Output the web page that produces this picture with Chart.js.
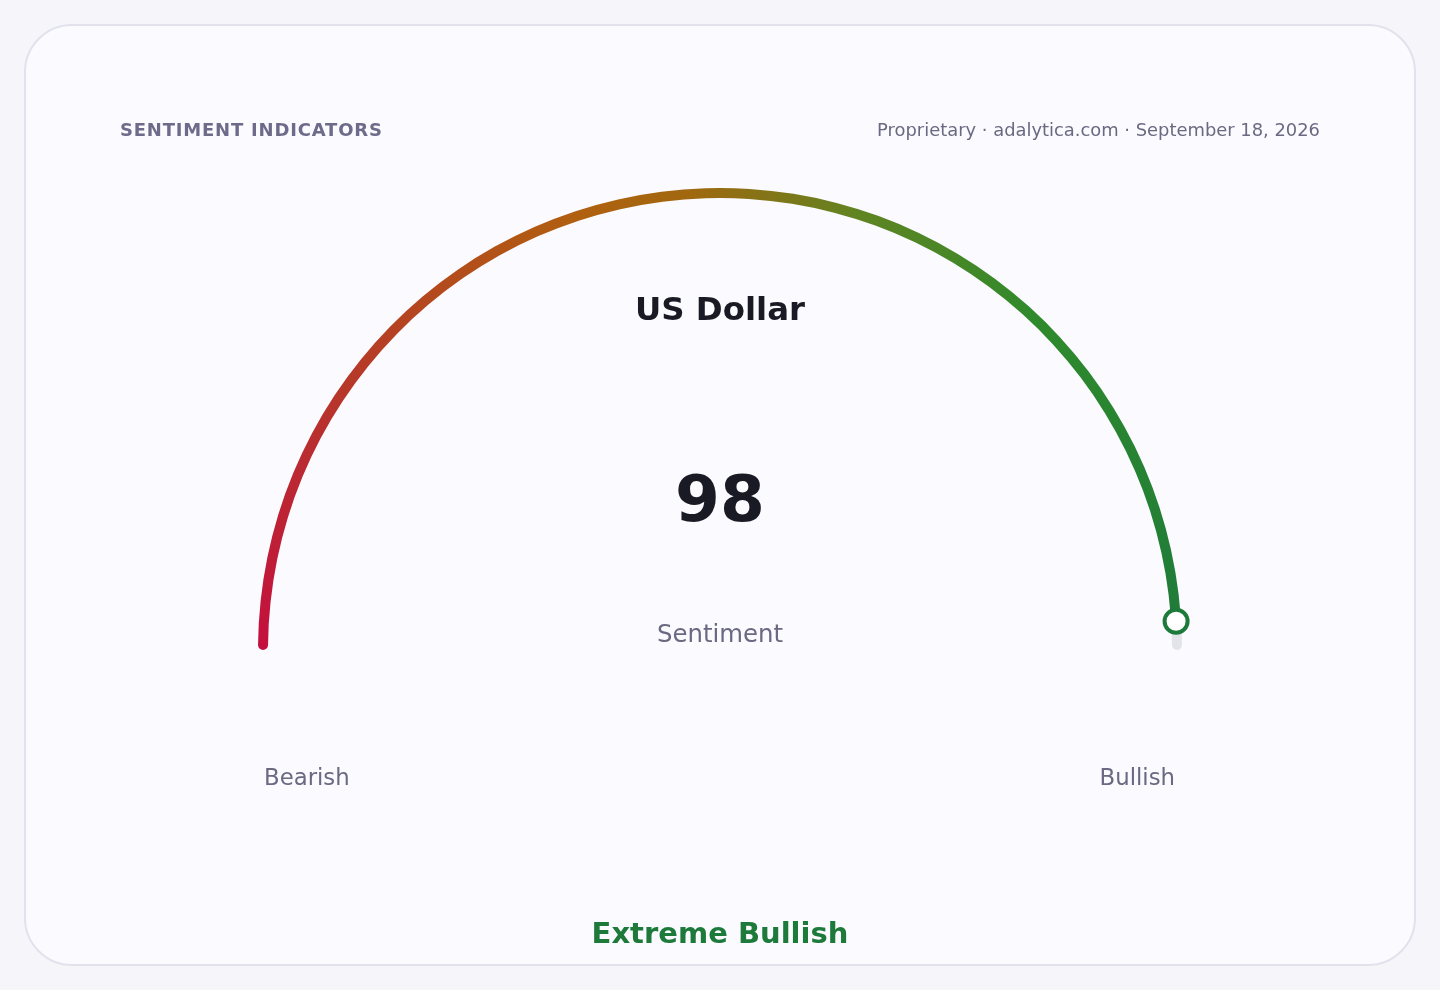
<!DOCTYPE html>
<html>
<head>
<meta charset="utf-8">
<script src="https://cdn.jsdelivr.net/npm/chart.js@4.4.1/dist/chart.umd.min.js"></script>
<style>
  html, body { margin: 0; padding: 0; width: 1440px; height: 990px; background: #f6f6fa; overflow: hidden; font-family: "DejaVu Sans", sans-serif; }
  .card { position: absolute; left: 24px; top: 24px; width: 1388px; height: 938px; border: 2px solid #e2e2ed; border-radius: 48px; background: #fafaff; }
  #gauge { position: absolute; left: 0; top: 0; }
  .t { position: absolute; white-space: nowrap; }
  .c { transform: translate(-50%, -50%); }
</style>
</head>
<body>
<div class="card"></div>
<canvas id="gauge" width="1440" height="990"></canvas>
<div class="t" style="left:120px;top:119px;font-size:18px;font-weight:bold;color:#6e6a8a;letter-spacing:0.8px;">SENTIMENT INDICATORS</div>
<div class="t" style="right:120px;top:119px;font-size:17.9px;color:#6b6982;">Proprietary · adalytica.com · September 18, 2026</div>
<div class="t c" style="left:720px;top:309px;font-size:32.4px;font-weight:bold;color:#1a1a24;" id="name"></div>
<div class="t c" style="left:720px;top:498px;font-size:64.5px;font-weight:bold;color:#1a1a24;" id="val"></div>
<div class="t c" style="left:720px;top:633px;font-size:24.4px;color:#6b6982;">Sentiment</div>
<div class="t" style="left:264px;top:764px;font-size:22.8px;color:#6b6982;" id="lo"></div>
<div class="t" style="right:265px;top:764px;font-size:22.8px;color:#6b6982;" id="hi"></div>
<div class="t c" style="left:720px;top:933px;font-size:29px;font-weight:bold;color:#1e7a3a;" id="zone"></div>
<script>
// gauge data
var asset = 'US Dollar';
var value = 98;
var maxValue = 100;
var endLabels = ['Bearish', 'Bullish'];
var zoneLabel = 'Extreme Bullish';

document.getElementById('name').textContent = asset;
document.getElementById('val').textContent = value;
document.getElementById('lo').textContent = endLabels[0];
document.getElementById('hi').textContent = endLabels[1];
document.getElementById('zone').textContent = zoneLabel;

// value slice: red -> orange -> green along the arc, rest slice: grey track
function sliceColor(context){
    if (context.dataIndex === 1) return '#e3e3ea';
    var chart = context.chart;
    var ca = chart.chartArea;
    var ctrl = chart.getDatasetMeta(0).controller;
    if (!ca || !chart.ctx.createConicGradient) return '#1e7a3a';
    var cx = (ca.left + ca.right) / 2 + (ctrl.offsetX || 0);
    var cy = (ca.top + ca.bottom) / 2 + (ctrl.offsetY || 0);
    var g = chart.ctx.createConicGradient(Math.PI, cx, cy);
    g.addColorStop(0, '#c40f3e');
    g.addColorStop(0.08, '#b8302e');
    g.addColorStop(0.2, '#b0600f');
    g.addColorStop(0.24, '#a0680f');
    g.addColorStop(0.3, '#5f8422');
    g.addColorStop(0.37, '#2f8a2c');
    g.addColorStop(0.5, '#1e7a3a');
    g.addColorStop(1, '#1e7a3a');
    return g;
}

// ring marker at the end of the value arc
const marker = {
    id: 'marker',
    afterDatasetsDraw(chart){
        var arc = chart.getDatasetMeta(0).data[0];
        var r = (arc.innerRadius + arc.outerRadius) / 2;
        var x = arc.x + Math.cos(arc.endAngle) * r;
        var y = arc.y + Math.sin(arc.endAngle) * r;
        var ctx = chart.ctx;
        ctx.save();
        ctx.beginPath();
        ctx.arc(x, y, 11.5, 0, Math.PI * 2);
        ctx.fillStyle = '#ffffff';
        ctx.fill();
        ctx.lineWidth = 4;
        ctx.strokeStyle = '#1e7a3a';
        ctx.stroke();
        ctx.restore();
    }
};

new Chart(document.getElementById('gauge'), {
    type: 'doughnut',
    data: {
        labels: ['Sentiment', 'Rest'],
        datasets: [{
            data: [value, maxValue - value],
            backgroundColor: sliceColor,
            borderWidth: 0,
            borderRadius: 5
        }]
    },
    options: {
        responsive: false,
        animation: false,
        rotation: -90,
        circumference: 180,
        radius: 462,
        cutout: '97.835%',
        layout: { padding: { top: 0, bottom: 152, left: 0, right: 0 } },
        plugins: {
            legend: { display: false },
            tooltip: { enabled: false }
        }
    },
    plugins: [marker]
});
</script>
</body>
</html>
